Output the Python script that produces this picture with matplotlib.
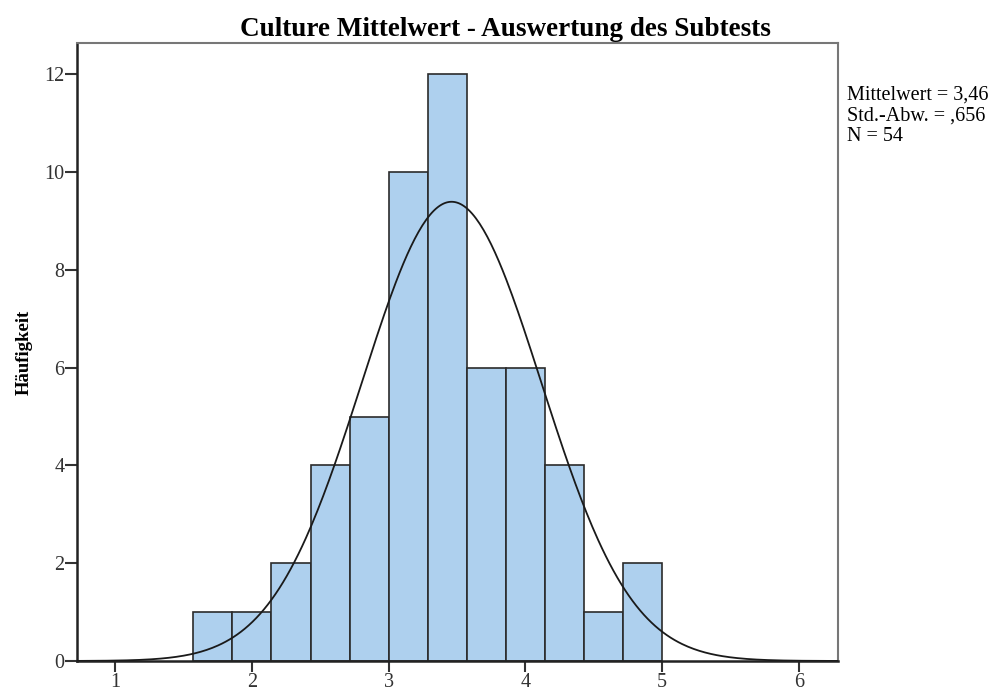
import matplotlib
matplotlib.use('Agg')
import matplotlib.pyplot as plt
import numpy as np

plt.rcParams['font.family'] = ['Liberation Serif', 'DejaVu Serif']

# Histogram data (SPSS output)
bin_edges = [1.571, 1.857, 2.143, 2.429, 2.714, 3.000, 3.286,
             3.571, 3.857, 4.143, 4.429, 4.714, 5.000]
counts = [1, 1, 2, 4, 5, 10, 12, 6, 6, 4, 1, 2]
mean_val = 3.46
sd_val = 0.656
n_val = 54
x_ticks = [1, 2, 3, 4, 5, 6]
y_ticks = [0, 2, 4, 6, 8, 10, 12]

fig = plt.figure(figsize=(9.98, 6.93), dpi=100)
ax = fig.add_axes([0.0772, 0.0462, 0.7625, 0.8918])

edges = np.array(bin_edges)
ax.bar(edges[:-1], counts, width=np.diff(edges), align='edge',
       color='#AED0EE', edgecolor='#2b2b2b', linewidth=1.2, zorder=2)

# fitted normal curve scaled to counts
xs = np.linspace(0.72, 6.29, 400)
bw = edges[1] - edges[0]
ys = n_val * bw / (sd_val * np.sqrt(2 * np.pi)) * np.exp(-0.5 * ((xs - mean_val) / sd_val) ** 2)
ax.plot(xs, ys, color='#1a1a1a', linewidth=1.3, zorder=3)

ax.set_xlim(0.722, 6.285)
ax.set_ylim(0, 12.64)
ax.set_xticks(x_ticks)
ax.set_yticks(y_ticks)
ax.tick_params(axis='x', direction='out', length=8, width=1.5, labelsize=14.5, pad=1, colors='#333333')
ax.tick_params(axis='y', direction='out', length=9, width=1.5, labelsize=14.5, pad=0, colors='#333333')
for side in ['left', 'bottom']:
    ax.spines[side].set_color('#222222')
    ax.spines[side].set_linewidth(1.8)
for side in ['top', 'right']:
    ax.spines[side].set_color('#777777')
    ax.spines[side].set_linewidth(1.5)

ax.set_ylabel('Häufigkeit', fontsize=13.5, fontweight='bold', labelpad=8)
fig.text(0.506, 0.957, 'Culture Mittelwert - Auswertung des Subtests',
         fontsize=19.5, fontweight='bold', ha='center', va='center')

stats = f'Mittelwert = {mean_val:.2f}'.replace('.', ',') + '\n' \
        + f'Std.-Abw. = {sd_val:.3f}'.replace('0.', ',') + '\n' \
        + f'N = {n_val}'
fig.text(0.849, 0.876, stats, fontsize=14.5, va='top', ha='left', linespacing=1.12)

fig.savefig('out.png', dpi=100)
